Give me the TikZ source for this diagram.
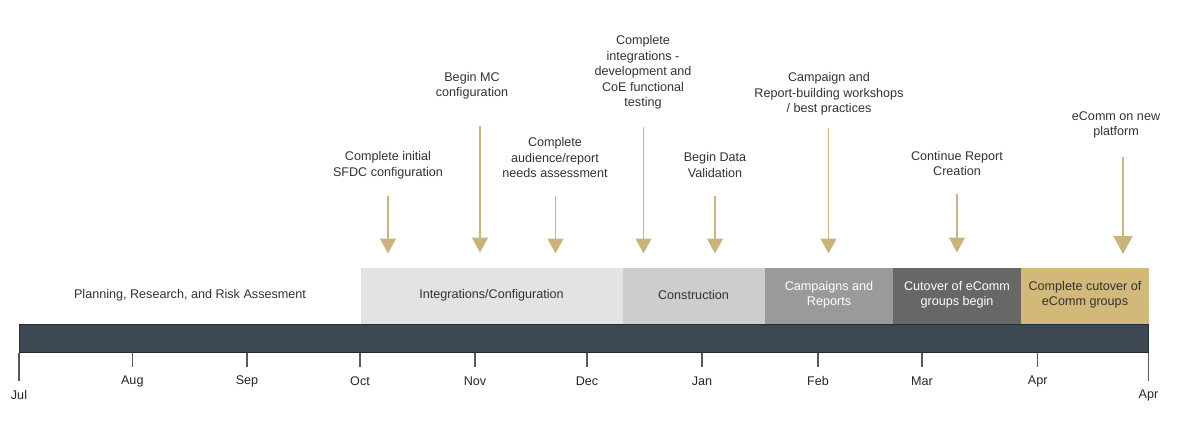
\documentclass[tikz,border=0pt]{standalone}
\usepackage{fontspec}
\setmainfont{Liberation Sans}
\usetikzlibrary{arrows.meta}
\definecolor{barfill}{HTML}{3E4852}
\definecolor{barline}{HTML}{222C35}
\definecolor{tan}{HTML}{D2B879}
\definecolor{arrowtan}{HTML}{CBB37C}
\definecolor{txt}{HTML}{333333}
\definecolor{ph1}{HTML}{E3E3E3}
\definecolor{ph2}{HTML}{CDCDCD}
\definecolor{ph3}{HTML}{9A9A9A}
\definecolor{ph4}{HTML}{676767}
\begin{document}
\begin{tikzpicture}[x=1pt,y=-1pt,
  lbl/.style={align=center,inner sep=0pt,text=txt,font=\fontsize{12.6}{15.5}\selectfont},
  phase/.style={inner sep=0pt,align=center,font=\fontsize{12.6}{15.5}\selectfont},
  milestone/.style={draw=arrowtan,line width=1.5pt,-{Triangle[width=16pt,length=15pt]}},
  bigmilestone/.style={draw=arrowtan,line width=1.5pt,-{Triangle[width=19pt,length=18pt]}},
  tick/.style={draw=black!65,line width=1.1pt},
  month/.style={inner sep=0pt,text=black!85,font=\fontsize{12.6}{15.5}\selectfont}
]
\useasboundingbox (0,0) rectangle (1200,429);
\fill[white] (0,0) rectangle (1200,429);

% phase boxes
\fill[ph1] (361,267.5) rectangle (622.5,324.5);
\fill[ph2] (622.5,267.5) rectangle (765,324.5);
\fill[ph3] (765,267.5) rectangle (893,324.5);
\fill[ph4] (893,267.5) rectangle (1021,324.5);
\fill[tan] (1021,267.5) rectangle (1148.5,324.5);

\node[phase,text=txt] (p0) at (190,295) {Planning, Research, and Risk Assesment};
\node[phase,text=txt] (p1) at (491.5,295) {Integrations/Configuration};
\node[phase,text=txt] (p2) at (693.5,295) {Construction};
\node[phase,text=white] (p3) at (829,294.5) {Campaigns and\\Reports};
\node[phase,text=white] (p4) at (957,294.5) {Cutover of eComm\\groups begin};
\node[phase,text=black!80] (p5) at (1085,294.5) {Complete cutover of\\eComm groups};

% timeline bar
\draw[barline,fill=barfill,line width=0.9pt] (19,324.5) rectangle (1148.5,352.5);

% ticks
\coordinate (tJul) at (19,352.5);
\coordinate (tJulE) at (19,380.5);
\draw[tick] (tJul) -- (tJulE);
\node[month] (mJul) at (19,395) {Jul};
\foreach \x/\m in {132.3/Aug,247/Sep,360/Oct,475/Nov,587/Dec,702/Jan,818/Feb,922/Mar,1037.7/Apr}{
  \coordinate (t\m) at (\x,352.5);
  \coordinate (t\m E) at (\x,366.5);
  \draw[tick] (t\m) -- (t\m E);
  \node[month] (m\m) at (\x,381) {\m};
}
\coordinate (tEnd) at (1148.5,352.5);
\coordinate (tEndE) at (1148.5,380.5);
\draw[tick] (tEnd) -- (tEndE);
\node[month] (mEnd) at (1148.5,395) {Apr};

% milestones
\node[lbl] (l1) at (388,165) {Complete initial\\SFDC configuration};
\node[lbl] (l2) at (472,85.5) {Begin MC\\configuration};
\node[lbl] (l3) at (555,157.5) {Complete\\audience/report\\needs assessment};
\node[lbl] (l4) at (643,72.5) {Complete\\integrations -\\development and\\CoE functional\\testing};
\node[lbl] (l5) at (715,165) {Begin Data\\Validation};
\node[lbl] (l6) at (829,94) {Campaign and\\Report-building workshops\\/ best practices};
\node[lbl] (l7) at (957,163.5) {Continue Report\\Creation};
\node[lbl] (l8) at (1116,125) {eComm on new\\platform};

\coordinate (a1s) at (388,196); \coordinate (a1e) at (388,253.5);
\coordinate (a2s) at (480,126); \coordinate (a2e) at (480,252.5);
\coordinate (a3s) at (555.5,196); \coordinate (a3e) at (555.5,253.5);
\coordinate (a4s) at (643.5,126.5); \coordinate (a4e) at (643.5,253.5);
\coordinate (a5s) at (715,196); \coordinate (a5e) at (715,253.5);
\coordinate (a6s) at (828.5,128); \coordinate (a6e) at (828.5,253.5);
\coordinate (a7s) at (957,194); \coordinate (a7e) at (957,252.5);
\coordinate (a8s) at (1123,157); \coordinate (a8e) at (1123,254);

\draw[milestone] (a1s) -- (a1e);
\draw[milestone] (a2s) -- (a2e);
\draw[milestone] (a3s) -- (a3e);
\draw[milestone] (a4s) -- (a4e);
\draw[milestone] (a5s) -- (a5e);
\draw[milestone] (a6s) -- (a6e);
\draw[milestone] (a7s) -- (a7e);
\draw[bigmilestone] (a8s) -- (a8e);
\end{tikzpicture}
\end{document}
